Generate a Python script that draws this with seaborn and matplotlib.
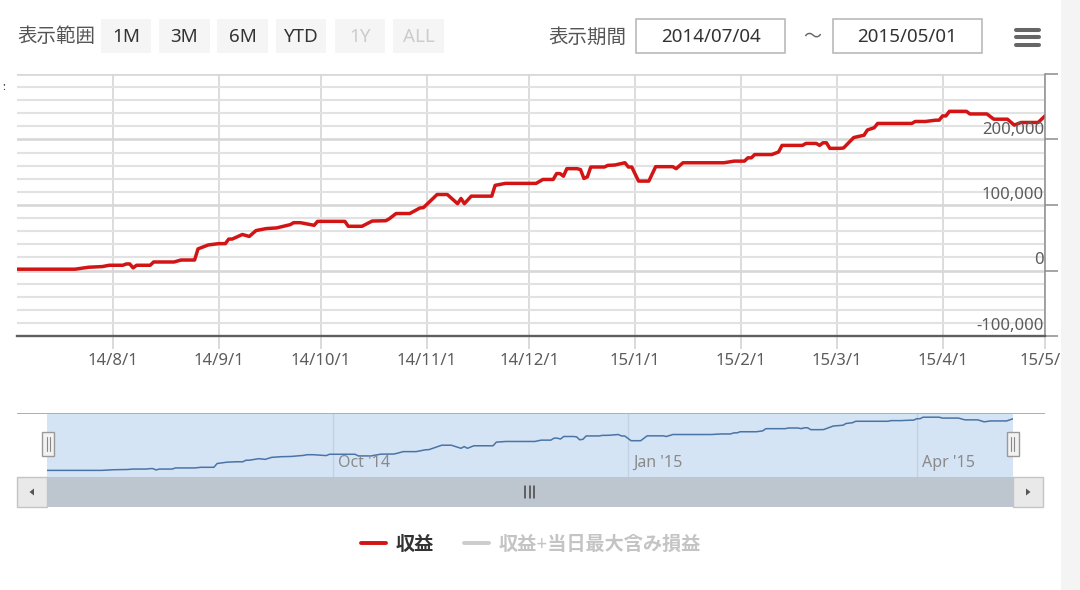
import pandas as pd
import matplotlib
matplotlib.use("Agg")
import matplotlib.pyplot as plt
import matplotlib.dates as mdates
from matplotlib.patches import Rectangle, Polygon
from matplotlib.lines import Line2D
from matplotlib.ticker import MultipleLocator, FuncFormatter
from matplotlib.transforms import offset_copy
import seaborn as sns

# ---- data -------------------------------------------------------------
dates = [
    "2014-07-04", "2014-07-21", "2014-07-25", "2014-07-29", "2014-07-31",
    "2014-08-04", "2014-08-05", "2014-08-06", "2014-08-07", "2014-08-08",
    "2014-08-12", "2014-08-13", "2014-08-19", "2014-08-21", "2014-08-25",
    "2014-08-26", "2014-08-29", "2014-09-01", "2014-09-03", "2014-09-04",
    "2014-09-05", "2014-09-08", "2014-09-10", "2014-09-12", "2014-09-15",
    "2014-09-18", "2014-09-22", "2014-09-23", "2014-09-25", "2014-09-29",
    "2014-09-30", "2014-10-08", "2014-10-09", "2014-10-13", "2014-10-16",
    "2014-10-20", "2014-10-21", "2014-10-23", "2014-10-27", "2014-10-30",
    "2014-10-31", "2014-11-04", "2014-11-07", "2014-11-10", "2014-11-11",
    "2014-11-12", "2014-11-14", "2014-11-20", "2014-11-21", "2014-11-24",
    "2014-12-03", "2014-12-05", "2014-12-08", "2014-12-09", "2014-12-10",
    "2014-12-11", "2014-12-12", "2014-12-15", "2014-12-16", "2014-12-17",
    "2014-12-18", "2014-12-19", "2014-12-23", "2014-12-24", "2014-12-26",
    "2014-12-29", "2014-12-30", "2014-12-31", "2015-01-02", "2015-01-05",
    "2015-01-07", "2015-01-12", "2015-01-13", "2015-01-15", "2015-01-27",
    "2015-01-30", "2015-02-02", "2015-02-03", "2015-02-04", "2015-02-05",
    "2015-02-10", "2015-02-12", "2015-02-13", "2015-02-19", "2015-02-20",
    "2015-02-23", "2015-02-24", "2015-02-25", "2015-02-26", "2015-02-27",
    "2015-03-02", "2015-03-03", "2015-03-06", "2015-03-09", "2015-03-10",
    "2015-03-12", "2015-03-13", "2015-03-23", "2015-03-24", "2015-03-27",
    "2015-03-30", "2015-03-31", "2015-04-01", "2015-04-02", "2015-04-03",
    "2015-04-08", "2015-04-09", "2015-04-14", "2015-04-16", "2015-04-20",
    "2015-04-22", "2015-04-24", "2015-04-29", "2015-05-01",
]
profit = [
    2000, 2000, 5000, 6000, 8000,
    8000, 10000, 10000, 4000, 8000,
    8000, 13000, 13000, 16000, 16000,
    33000, 39000, 41000, 41000, 48000,
    48000, 55000, 52000, 61000, 64000,
    65000, 70000, 73000, 73000, 69000,
    75000, 75000, 67500, 67500, 75500,
    76000, 79000, 87000, 87000, 95500,
    96000, 116000, 116000, 102000, 110000,
    102000, 113500, 113500, 130000, 133000,
    133000, 139000, 139000, 148000, 148000,
    144000, 155500, 155500, 154000, 140500,
    143000, 158000, 158000, 160500, 161000,
    164500, 158000, 158000, 136500, 136500,
    158500, 158500, 155500, 164500, 164500,
    167000, 167000, 172000, 172000, 177000,
    177000, 181000, 191000, 191000, 194000,
    194000, 191000, 195000, 195000, 186500,
    186500, 187000, 203000, 206500, 214500,
    218000, 224500, 224500, 227500, 227500,
    229500, 229500, 236000, 236000, 243000,
    243000, 239000, 239000, 231000, 231000,
    222000, 226000, 226000, 236000,
]
period_start = "2014-07-04"
period_end = "2015-05-01"
y_ticks = [-100000, 0, 100000, 200000, 300000]
nav_ticks = ["2014-10-01", "2015-01-01", "2015-04-01"]
range_buttons = ["1M", "3M", "6M", "YTD", "1Y", "ALL"]
range_enabled = [True, True, True, True, False, False]
series_names = ["収益", "収益+当日最大含み損益"]

# ---- style ------------------------------------------------------------
sns.set_theme(style="white")
plt.rcParams["font.family"] = ["Noto Sans", "Noto Sans CJK JP", "DejaVu Sans"]

W, H = 1080, 590
fig = plt.figure(figsize=(W / 100, H / 100), dpi=100)
fig.patch.set_facecolor("white")


def fx(x):
    return x / W


def fy(y):
    return 1 - y / H


def rect(x0, y0, x1, y1, **kw):
    r = Rectangle((fx(x0), fy(y1)), (x1 - x0) / W, (y1 - y0) / H,
                  transform=fig.transFigure, **kw)
    fig.add_artist(r)
    return r


df = pd.DataFrame({"date": pd.to_datetime(dates), "profit": profit})
x0, x1 = pd.Timestamp(period_start), pd.Timestamp(period_end)

# ---- main chart -------------------------------------------------------
ax = fig.add_axes([fx(17), fy(336), (1045 - 17) / W, (336 - 74) / H])
sns.lineplot(data=df, x="date", y="profit", ax=ax, color="#d31414",
             linewidth=2.5, legend=False)
ax.set_xlim(x0, x1)
ax.set_ylim(y_ticks[0], y_ticks[-1])
ax.set_xlabel("")
ax.set_ylabel("")
ax.set_facecolor("white")

ax.yaxis.set_major_locator(MultipleLocator(100000))
ax.yaxis.set_minor_locator(MultipleLocator(20000))
ax.xaxis.set_major_locator(mdates.MonthLocator())


def short_date(v, pos):
    d = mdates.num2date(v)
    return f"{d.year % 100}/{d.month}/{d.day}"


ax.xaxis.set_major_formatter(FuncFormatter(short_date))
ax.set_axisbelow(True)
ax.grid(True, axis="y", which="minor", color="#e2e2e2", linewidth=1.5)
ax.grid(True, axis="y", which="major", color="#d7d7d7", linewidth=1.9)
ax.grid(True, axis="x", which="major", color="#d9d9d9", linewidth=1.3)

ax.tick_params(axis="x", which="major", bottom=True, length=9, width=1.2,
               color="#d4d4d4", pad=3, labelsize=12, labelcolor="#5c5c5c")
ax.tick_params(axis="y", which="major", left=False, right=True, length=9.5,
               width=1.1, color="#8c8c8c", labelleft=False, labelright=False)
ax.tick_params(axis="y", which="minor", left=False, right=False)

for side in ("top", "left"):
    ax.spines[side].set_visible(False)
ax.spines["bottom"].set_color("#5f5f5f")
ax.spines["bottom"].set_linewidth(1.7)
ax.spines["right"].set_color("#8c8c8c")
ax.spines["right"].set_linewidth(1.1)

label_tr = offset_copy(ax.get_yaxis_transform(), fig=fig, x=-1, y=10, units="dots")
for v in y_ticks[:-1]:
    ax.text(1.0, v, f"{v:,}", transform=label_tr, ha="right", va="center",
            fontsize=12, color="#5c5c5c")

# ---- navigator --------------------------------------------------------
rect(17, 412.5, 1045, 413.5, facecolor="#b0b0b0", edgecolor="none")
nav = fig.add_axes([fx(47), fy(477), (1013 - 47) / W, (477 - 413) / H])
nav.set_facecolor("#d5e4f5")
sns.lineplot(data=df, x="date", y="profit", ax=nav, color="#4a74a6",
             linewidth=1.1, legend=False)
nav.set_xlim(x0, x1)
nav.set_ylim(-28000, 262000)
nav.set_xlabel("")
nav.set_ylabel("")
nav.set_xticks(mdates.date2num(pd.to_datetime(nav_ticks)))
nav.set_yticks([])
nav.tick_params(axis="x", bottom=False, labelbottom=False)
nav.set_axisbelow(True)
nav.grid(True, axis="x", color="#c2d2e5", linewidth=1.0)
nav.grid(False, axis="y")
for s in nav.spines.values():
    s.set_visible(False)
nav_tr = offset_copy(nav.get_xaxis_transform(), fig=fig, x=5, y=14, units="dots")
for t in nav_ticks:
    ts = pd.Timestamp(t)
    nav.text(mdates.date2num(ts), 0, ts.strftime("%b '%y"), transform=nav_tr,
             ha="left", va="center", fontsize=11.5, color="#8a8a8a")

# navigator handles
for cx in (48, 1012.5):
    rect(cx - 6, 432, cx + 6, 456, facecolor="#f2f2f2", edgecolor="#999999",
         linewidth=1.0, zorder=5)
    for dx in (-1.5, 1.5):
        fig.add_artist(Line2D([fx(cx + dx)] * 2, [fy(437), fy(451)],
                              transform=fig.transFigure, color="#888888",
                              linewidth=0.8, zorder=6))

# ---- scrollbar --------------------------------------------------------
rect(47, 477, 1013, 507, facecolor="#bdc6ce", edgecolor="none")
rect(17, 477, 47, 507, facecolor="#e9e9e9", edgecolor="#c4c4c4", linewidth=1.0)
rect(1013, 477, 1043, 507, facecolor="#e9e9e9", edgecolor="#c4c4c4", linewidth=1.0)
fig.add_artist(Polygon([(fx(29.5), fy(492)), (fx(34), fy(488.5)), (fx(34), fy(495.5))],
                       closed=True, transform=fig.transFigure,
                       facecolor="#555555", edgecolor="none"))
fig.add_artist(Polygon([(fx(1030.5), fy(492)), (fx(1026), fy(488.5)), (fx(1026), fy(495.5))],
                       closed=True, transform=fig.transFigure,
                       facecolor="#555555", edgecolor="none"))
for gx in (525, 529.5, 534):
    fig.add_artist(Line2D([fx(gx)] * 2, [fy(486), fy(498)],
                          transform=fig.transFigure, color="#444444", linewidth=1.1))

# ---- legend -----------------------------------------------------------
handles = [Line2D([], [], color="#d31414", linewidth=2.8),
           Line2D([], [], color="#cccccc", linewidth=2.8)]
leg = fig.legend(handles, series_names, loc="center",
                 bbox_to_anchor=(fx(531), fy(545)), ncol=2, frameon=False,
                 handlelength=1.3, handletextpad=0.5, columnspacing=1.6,
                 prop={"size": 13.8, "weight": "bold"})
leg.get_texts()[0].set_color("#333333")
leg.get_texts()[1].set_color("#c4c4c4")

# ---- range selector and date inputs -----------------------------------
fig.text(fx(17), fy(35), "表示範囲", ha="left", va="center_baseline",
         fontsize=14, color="#555555")
button_spans = [(101, 151), (159, 210), (217, 268), (276, 326), (335, 385), (393, 444)]
for label, on, (bx0, bx1) in zip(range_buttons, range_enabled, button_spans):
    rect(bx0, 19, bx1, 53, facecolor="#f5f5f5", edgecolor="none")
    fig.text(fx((bx0 + bx1) / 2), fy(35), label, ha="center", va="center_baseline",
             fontsize=13.5, color="#333333" if on else "#cccccc")

fig.text(fx(548), fy(35), "表示期間", ha="left", va="center_baseline",
         fontsize=14, color="#555555")
for (bx0, bx1), d in zip([(636, 785), (833, 982)], [period_start, period_end]):
    rect(bx0, 19.5, bx1, 53, facecolor="white", edgecolor="#b4b4b4", linewidth=1.1)
    fig.text(fx((bx0 + bx1) / 2), fy(35), d.replace("-", "/"), ha="center",
             va="center_baseline", fontsize=13.5, color="#333333")
fig.text(fx(812), fy(35), "〜", ha="center", va="center_baseline",
         fontsize=13, color="#666666")

# menu icon
for by in (29.5, 37, 44.5):
    fig.add_artist(Line2D([fx(1016), fx(1039)], [fy(by)] * 2,
                          transform=fig.transFigure, color="#666666",
                          linewidth=2.9, solid_capstyle="round"))

fig.text(fx(4), fy(88), ":", ha="center", va="center", fontsize=8, color="#333333")

# right page edge
rect(1061, 0, 1080, 590, facecolor="#f4f4f4", edgecolor="none", zorder=20)

fig.savefig("out.png", dpi=100)
